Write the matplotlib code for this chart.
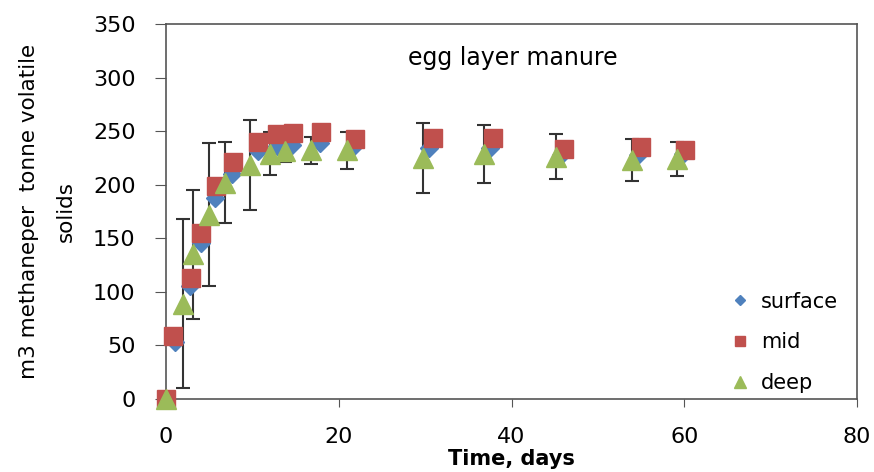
import matplotlib.pyplot as plt

# Data
surface_days = [0, 1, 2.8, 4, 5.7, 7.6, 10.6, 12.8, 14.6, 17.8, 21.6, 30.5, 37.5, 45.7, 54.7, 59.8]
surface_vals = [0, 53, 105, 146, 188, 210, 231, 236, 237, 239, 235, 234, 234, 228, 228, 229]

mid_days = [0, 0.8, 2.9, 4.1, 5.8, 7.7, 10.7, 12.9, 14.7, 17.9, 21.9, 30.9, 37.8, 46.1, 55, 60.1]
mid_vals = [0, 59, 113, 155, 199, 221, 240, 247, 248, 249, 243, 244, 244, 233, 235, 232]

deep_days = [0, 2, 3.1, 5, 6.8, 9.7, 12, 13.8, 16.8, 21, 29.7, 36.8, 45.1, 53.9, 59.2]
deep_vals = [0, 89, 135, 172, 202, 218, 229, 231, 232, 232, 225, 229, 226, 223, 224]
deep_err = [0, 79, 60, 67, 38, 42, 20, 10, 13, 17, 33, 27, 21, 20, 16]

plt.rcParams['font.family'] = 'DejaVu Sans'

fig = plt.figure(figsize=(8.74, 4.72), dpi=100)
ax = fig.add_axes([0.19, 0.155, 0.7905, 0.794])

# error bars belong to the deep series
ax.errorbar(deep_days, deep_vals, yerr=deep_err, fmt='none', ecolor='#333333',
            elinewidth=1.5, capsize=5, capthick=1.5, zorder=1)
ax.plot(surface_days, surface_vals, 'D', color='#4F81BD', markersize=9,
        linestyle='none', label='surface', zorder=2, clip_on=False)
ax.plot(mid_days, mid_vals, 's', color='#C0504D', markersize=13,
        linestyle='none', label='mid', zorder=3, clip_on=False)
ax.plot(deep_days, deep_vals, '^', color='#9BBB59', markersize=14,
        linestyle='none', label='deep', zorder=4, clip_on=False)

ax.set_xlim(0, 80)
ax.set_ylim(0, 350)
ax.set_xticks([0, 20, 40, 60, 80])
ax.set_yticks(range(0, 351, 50))
ax.tick_params(labelsize=16, color='#555555')
ax.tick_params(axis='y', length=8, pad=14)
ax.tick_params(axis='x', length=6, pad=14)
for s in ax.spines.values():
    s.set_color('#555555')
    s.set_linewidth(1.2)

ax.set_xlabel('Time, days', fontsize=15, fontweight='bold', labelpad=2)
ax.set_ylabel('m3 methaneper  tonne volatile\nsolids', fontsize=15.5, linespacing=2.1, labelpad=12)
ax.text(0.502, 0.909, 'egg layer manure', transform=ax.transAxes, ha='center', va='center',
        fontsize=17)

leg = ax.legend(loc='lower right', frameon=False, prop={'size': 15},
                labelspacing=1.0, handletextpad=0.0, markerscale=0.6,
                bbox_to_anchor=(1.0, -0.035))

fig.savefig('out.png', dpi=100)
